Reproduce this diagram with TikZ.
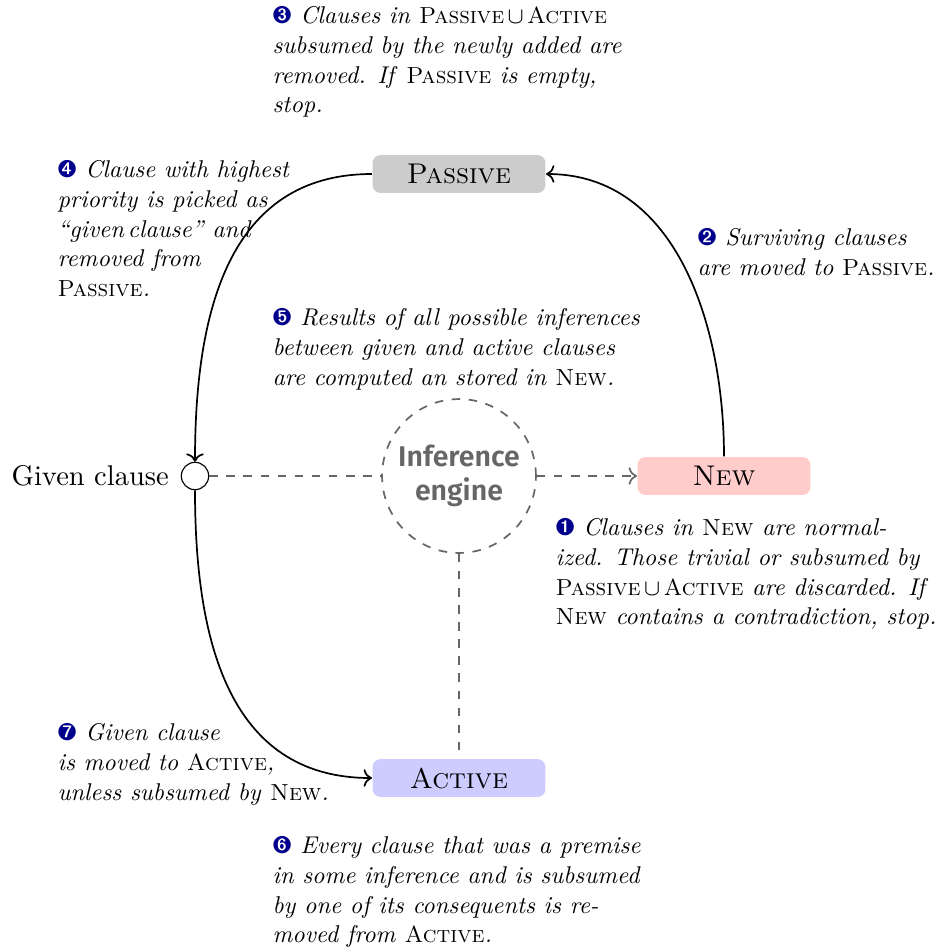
\documentclass[tikz,border=0pt]{standalone}
\usepackage{fontspec}
\newfontfamily\enginefont{Fira Sans}[BoldFont={Fira Sans SemiBold}]
\newfontfamily\notefont{lmroman10-regular}[Extension=.otf, ItalicFont=lmroman10-italic, SmallCapsFont=lmromancaps10-regular, SmallCapsFeatures={Scale=0.96}]
\usepackage{pifont}
\usetikzlibrary{arrows.meta}
\definecolor{dingblue}{RGB}{0,0,140}
\newcommand{\stepnum}[1]{\textcolor{dingblue}{\ding{#1}}}
\newcommand{\SC}[1]{\textup{\textsc{#1}}}
\newcommand{\unionsym}{\kern1.2pt$\cup$\kern1.2pt}
\begin{document}
\begin{tikzpicture}[x=0.3509pt,y=-0.3509pt,
  store/.style={rectangle, rounded corners=2.8pt, minimum width=60.7pt, minimum height=13.3pt, inner sep=0pt, font=\normalsize},
  note/.style={anchor=north west, inner sep=0pt, align=left, font=\notefont\fontsize{8.5}{10.4}\selectfont\itshape},
  flow/.style={semithick, ->},
  dataflow/.style={semithick, black!60, dashed}
]
\useasboundingbox (0,0) rectangle (944,947);
\node[store, fill=black!20] (passive) at (459,174) {\SC{Passive}};
\node[store, fill=red!20] (new) at (724,476) {\SC{New}};
\node[store, fill=blue!20] (active) at (459,778) {\SC{Active}};
\node[circle, draw, minimum size=9.6pt, inner sep=0pt] (given) at (195,476) {};
\node[anchor=east, inner sep=0pt] (givenlabel) at ([xshift=-4pt]given.west) {Given clause};
\node[circle, draw=black!60, dashed, semithick, minimum size=54pt, inner sep=0pt, align=center, text=black!60, font=\enginefont\bfseries] (engine) at (459,476) {Inference\\engine};

\draw[flow] (passive.west) to[out=180,in=90,looseness=1.1] (given.north);
\draw[flow] (given.south) to[out=-90,in=180,looseness=1.1] (active.west);
\draw[flow] (new.north) to[out=90,in=0] (passive.east);
\draw[dataflow] (given.east) -- (engine.west);
\draw[dataflow,->] (engine.east) -- (new.west);
\draw[dataflow] (engine.south) -- (active.north);

\node[note] (n3) at (272,6) {\stepnum{204} Clauses in \SC{Passive}\unionsym\SC{Active}\\ subsumed by the newly added are\\ removed. If \SC{Passive} is empty,\\ stop.};
\node[note] (n4) at (57,160) {\stepnum{205} Clause with highest\\ priority is picked as\\ “given\,clause” and\\ removed from\\ \SC{Passive}.};
\node[note] (n2) at (697,228) {\stepnum{203} Surviving clauses\\ are moved to \SC{Passive}.};
\node[note] (n5) at (272,308) {\stepnum{206} Results of all possible inferences\\ between given and active clauses\\ are computed an stored in \SC{New}.};
\node[note] (n1) at (555,518) {\stepnum{202} Clauses in \SC{New} are normal-\\ ized. Those trivial or subsumed by\\ \SC{Passive}\unionsym\SC{Active} are discarded. If\\ \SC{New} contains a contradiction, stop.};
\node[note] (n7) at (57,723) {\stepnum{208} Given clause\\ is moved to \SC{Active},\\ unless subsumed by \SC{New}.};
\node[note] (n6) at (272,836) {\stepnum{207} Every clause that was a premise\\ in some inference and is subsumed\\ by one of its consequents is re-\\ moved from \SC{Active}.};
\end{tikzpicture}
\end{document}
